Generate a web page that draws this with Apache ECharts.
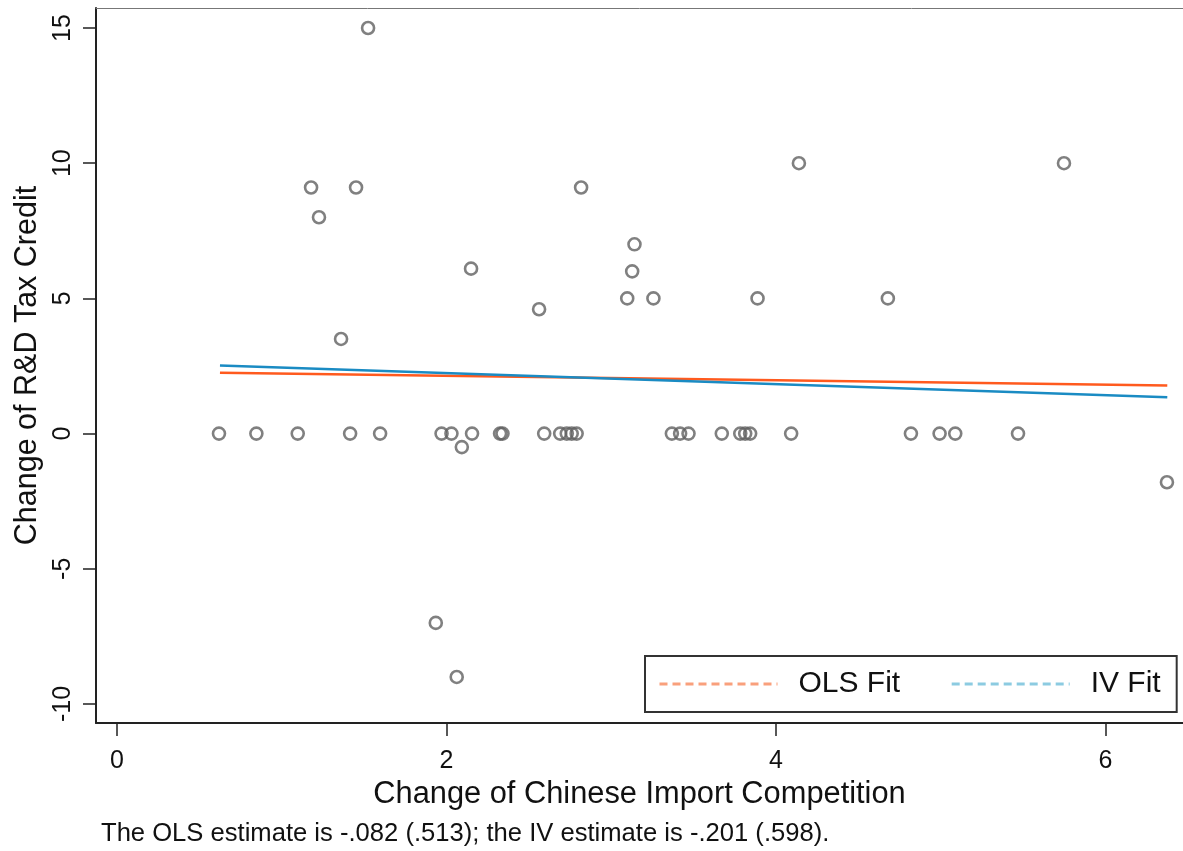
<!DOCTYPE html>
<html>
<head>
<meta charset="utf-8">
<script src="https://cdn.jsdelivr.net/npm/echarts@6/dist/echarts.min.js"></script>
<style>
  html, body { margin: 0; padding: 0; background: #fff; }
  #chart { width: 1183px; height: 851px; }
</style>
</head>
<body>
<div id="chart"></div>
<script>
// Industry-level observations
const importChange = [
  0.619, 0.846, 1.097, 1.415, 1.597, 1.97, 2.03, 2.093, 2.155, 2.325, 2.34,
  2.593, 2.69, 2.73, 2.76, 2.79, 3.368, 3.418, 3.469, 3.671, 3.783, 3.813,
  3.843, 4.092, 4.819, 4.993, 5.088, 5.469, 6.373,
  1.524, 1.178, 1.451, 1.226, 1.36, 2.149, 2.562, 2.817, 3.097, 3.127, 3.141,
  3.256, 3.888, 4.139, 4.679, 5.748, 1.935, 2.062
];
const taxCreditChange = [
  0, 0, 0, 0, 0, 0, 0, -0.5, 0, 0, 0,
  0, 0, 0, 0, 0, 0, 0, 0, 0, 0, 0,
  0, 0, 0, 0, 0, 0, -1.8,
  15, 9.1, 9.1, 8, 3.5, 6.1, 4.6, 9.1, 5, 6, 7,
  5, 5, 10, 5, 10, -7, -9
];

// Fitted lines (endpoints over the observed range)
const fitX = [0.625, 6.375];
const olsFitY = [2.25, 1.78];
const ivFitY = [2.52, 1.34];

// Axis ticks
const xTicks = [0, 2, 4, 6];
const yTicks = [-10, -5, 0, 5, 10, 15];

const note = 'The OLS estimate is -.082 (.513); the IV estimate is -.201 (.598).';

const points = importChange.map((x, i) => [x, taxCreditChange[i]]);
const olsLine = fitX.map((x, i) => [x, olsFitY[i]]);
const ivLine = fitX.map((x, i) => [x, ivFitY[i]]);

const FONT = '"Liberation Sans", Arial, sans-serif';
const X_MIN = -21 / 164.75;
const X_MAX = (1183 - 117) / 164.75;

const chart = echarts.init(document.getElementById('chart'), null, { renderer: 'canvas' });

chart.setOption({
  animation: false,
  backgroundColor: '#fff',
  textStyle: { fontFamily: FONT },
  title: {
    text: note,
    left: 101,
    top: 821,
    padding: 0,
    textStyle: { fontFamily: FONT, fontSize: 25.6, fontWeight: 'normal', color: '#111' }
  },
  grid: { left: 96, right: 0, top: 8, bottom: 128 },
  legend: {
    left: 645, top: 656,
    padding: [13, 16, 13, 13],
    itemGap: 50,
    itemWidth: 118, itemHeight: 14,
    backgroundColor: '#fff',
    borderColor: '#333', borderWidth: 2,
    textStyle: { fontFamily: FONT, fontSize: 30, color: '#111', padding: [0, 0, 0, 16] },
    data: [
      { name: 'OLS Fit', itemStyle: { opacity: 0 }, lineStyle: { color: '#f9a07c', width: 3, type: [8, 5] } },
      { name: 'IV Fit', itemStyle: { opacity: 0 }, lineStyle: { color: '#8ccbe1', width: 3, type: [8, 5] } }
    ]
  },
  xAxis: [
    {
      type: 'value',
      min: X_MIN,
      max: X_MAX,
      splitLine: { show: false },
      axisLine: { show: true, onZero: false, lineStyle: { color: '#222', width: 2 } },
      axisTick: { show: true, length: 13, customValues: xTicks, lineStyle: { color: '#222', width: 1.5 } },
      axisLabel: { customValues: xTicks, margin: 26, fontSize: 25, color: '#111', fontFamily: FONT },
      name: 'Change of Chinese Import Competition',
      nameLocation: 'middle',
      nameGap: 56,
      nameTextStyle: { fontSize: 30.8, color: '#111', fontFamily: FONT }
    },
    {
      // plot region top edge
      type: 'value',
      position: 'top',
      min: X_MIN,
      max: X_MAX,
      splitLine: { show: false },
      axisLine: { show: true, onZero: false, lineStyle: { color: '#777', width: 1 } },
      axisTick: { show: false },
      axisLabel: { show: false }
    }
  ],
  yAxis: {
    type: 'value',
    min: -10 - 19 / 27.04,
    max: 15 + 20 / 27.04,
    splitLine: { show: false },
    axisLine: { show: true, onZero: false, lineStyle: { color: '#222', width: 2 } },
    axisTick: { show: true, length: 13, customValues: yTicks, lineStyle: { color: '#222', width: 1.5 } },
    axisLabel: { customValues: yTicks, rotate: 90, margin: 20, fontSize: 25, color: '#111', fontFamily: FONT },
    name: 'Change of R&D Tax Credit',
    nameLocation: 'middle',
    nameGap: 48,
    nameRotate: 90,
    nameTextStyle: { fontSize: 30.5, color: '#111', fontFamily: FONT }
  },
  series: [
    {
      name: 'Observations',
      type: 'scatter',
      data: points,
      symbol: 'circle',
      symbolSize: 12,
      itemStyle: { color: 'rgba(255,255,255,0)', borderColor: '#606060', borderWidth: 2.6 },
      z: 2
    },
    {
      name: 'OLS Fit',
      type: 'line',
      data: olsLine,
      symbol: 'none',
      itemStyle: { color: '#ff5a1e' },
      lineStyle: { color: '#ff5a1e', width: 2.5 },
      z: 3
    },
    {
      name: 'IV Fit',
      type: 'line',
      data: ivLine,
      symbol: 'none',
      itemStyle: { color: '#1a8bc3' },
      lineStyle: { color: '#1a8bc3', width: 2.5 },
      z: 4
    }
  ]
});
</script>
</body>
</html>
